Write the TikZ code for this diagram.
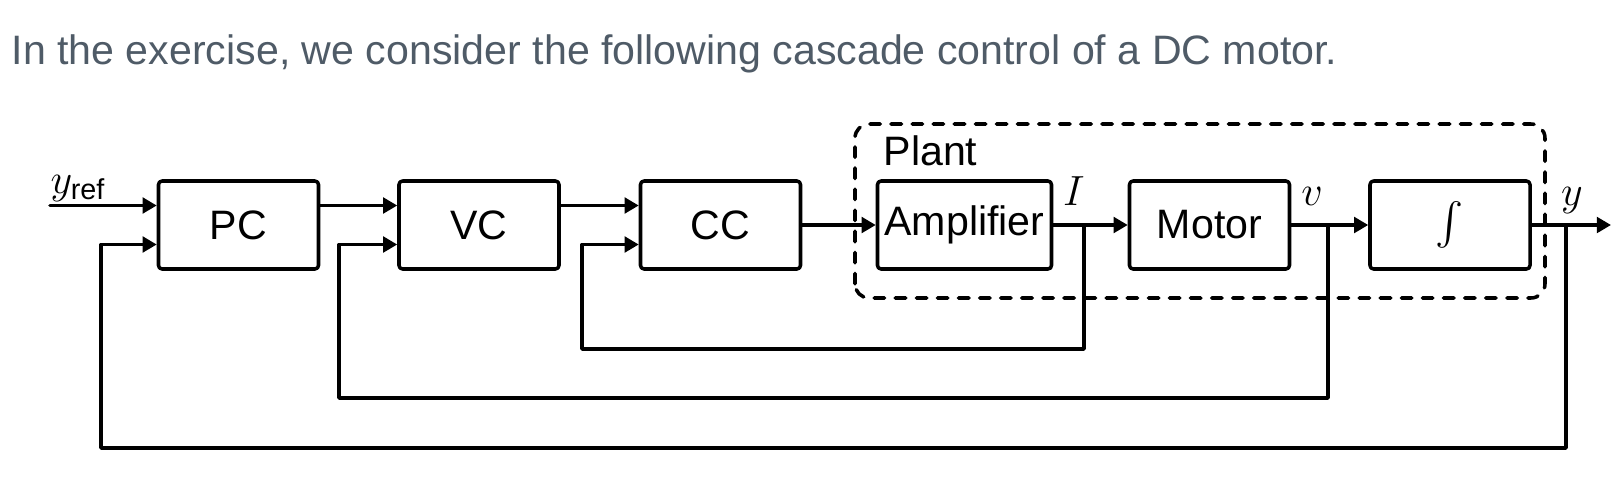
\documentclass[tikz,border=0pt]{standalone}
\usepackage{amsmath}
\usepackage{fontspec}
\setmainfont{Liberation Sans}
\usetikzlibrary{calc, positioning}
\usetikzlibrary{arrows.meta}
\definecolor{titlegray}{HTML}{4F5B67}

\begin{document}
\begin{tikzpicture}[line cap=round,line join=round,
  font=\fontsize{11.7}{14}\selectfont,
  block/.style={draw,line width=1pt,rounded corners=1pt,minimum width=1.6cm,
    minimum height=0.88cm,inner sep=2pt},
  signal/.style={line width=1pt,-{Triangle[length=4pt,width=4.4pt]}},
  label/.style={inner sep=0pt}]
\path[use as bounding box] (0,0) rectangle (16.24,4.87);

\def\portsep{0.195}

\node[label,anchor=base west,text=titlegray] (title) at (0.11,4.225)
  {In the exercise, we consider the following cascade control of a DC motor.};

% blocks
\node[block] (PC) at (2.385,2.62) {PC};
\node[block] (VC) at (4.79,2.62) {VC};
\node[block] (CC) at (7.205,2.62) {CC};
\node[block,minimum width=1.71cm] (Amp) at (9.645,2.62) {Amplifier};
\node[block] (Motor) at (12.095,2.62) {Motor};
\node[block] (Int) at (14.50,2.62) {$\int$};

% plant frame
\draw[line width=1pt,dashed,rounded corners=4pt] (8.55,1.89) rectangle (15.45,3.63);
\node[label,anchor=base west] (plant) at (8.83,3.22) {Plant};

\coordinate (in) at (0.50,2.62+\portsep);
\coordinate (out) at (16.11,2.62);
\coordinate (bI) at (10.84,2.62);
\coordinate (bv) at (13.28,2.62);
\coordinate (by) at (15.66,2.62);
\coordinate (loopI) at (5.82,1.38);
\coordinate (loopv) at (3.39,0.89);
\coordinate (loopy) at (1.01,0.39);

% forward path
\draw[signal] (in) -- (PC.west |- in);
\draw[signal] (PC.east |- in) -- (VC.west |- in);
\draw[signal] (VC.east |- in) -- (CC.west |- in);
\draw[signal] (CC.east) -- (Amp.west);
\draw[signal] (Amp.east) -- (Motor.west);
\draw[signal] (Motor.east) -- (Int.west);
\draw[signal] (Int.east) -- (out);

% feedback loops
\draw[signal] (bI) |- (loopI) |- ($(CC.west)+(0,-\portsep)$);
\draw[signal] (bv) |- (loopv) |- ($(VC.west)+(0,-\portsep)$);
\draw[signal] (by) |- (loopy) |- ($(PC.west)+(0,-\portsep)$);

% signal labels
\node[label,anchor=base west] (yref) at (0.50,2.94) {$y_{\text{ref}}$};
\node[anchor=base] (Ilab) at (10.74,2.82) {$I$};
\node[anchor=base] (vlab) at (13.12,2.82) {$v$};
\node[anchor=base] (ylab) at (15.72,2.82) {$y$};
\end{tikzpicture}
\end{document}
